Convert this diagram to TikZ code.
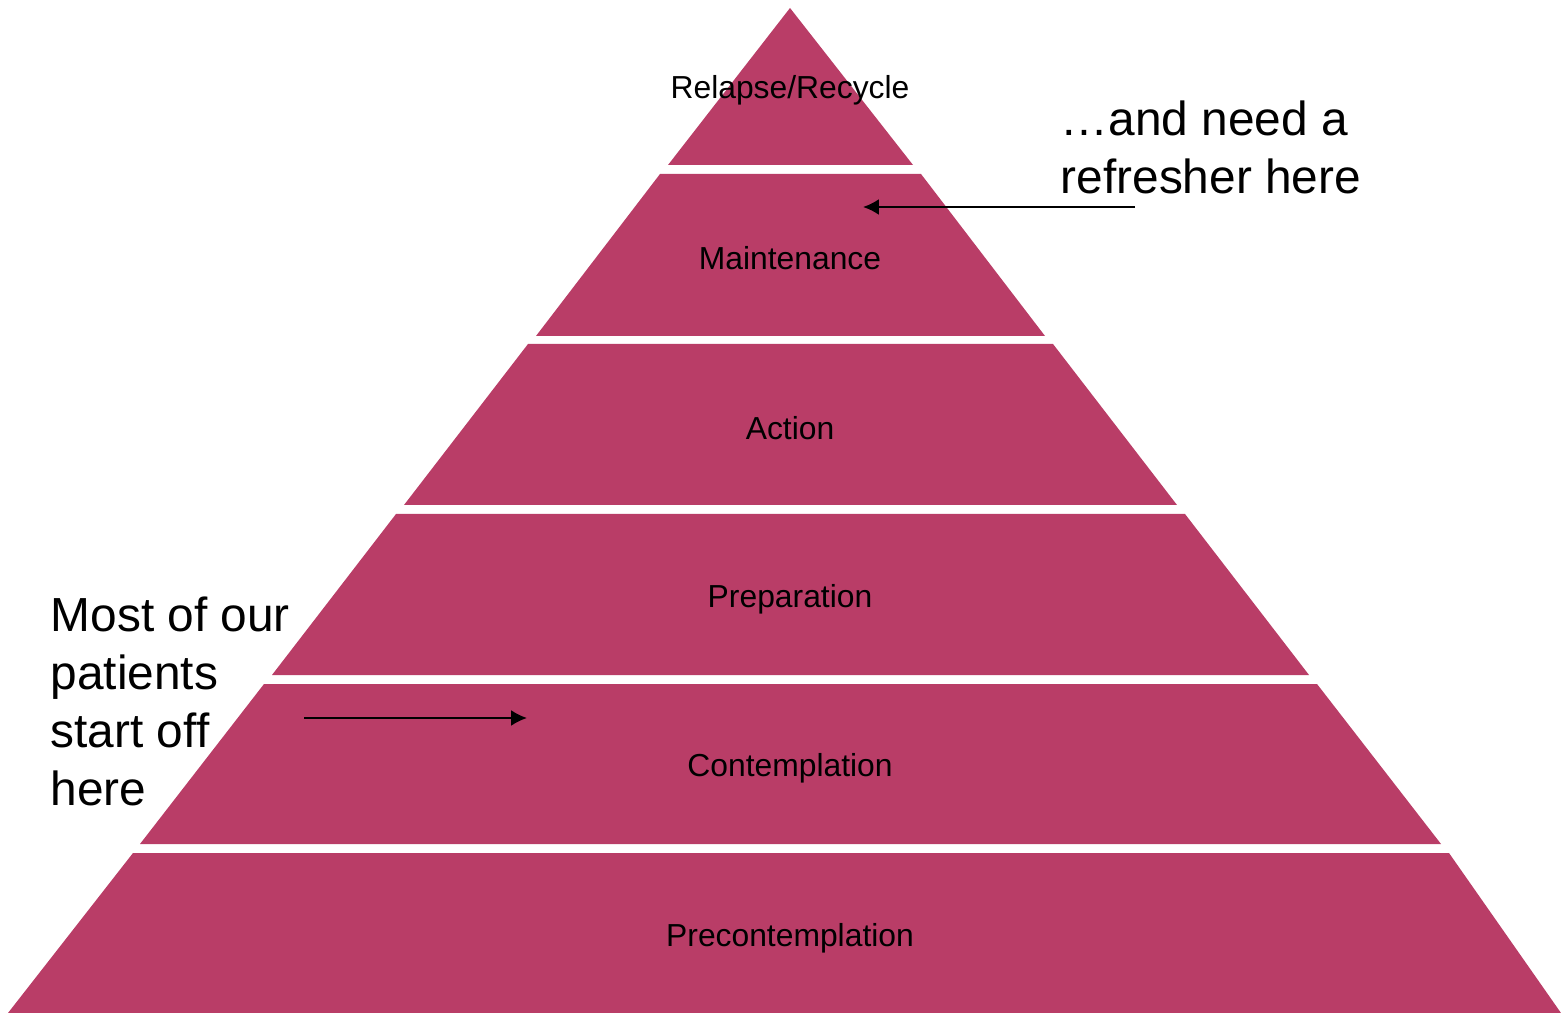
\documentclass[tikz,border=0pt]{standalone}
\usepackage{fontspec}
\setmainfont{Liberation Sans}
\usetikzlibrary{arrows.meta}
\definecolor{berry}{RGB}{185,61,103}

\begin{document}
\begin{tikzpicture}[x=0.01cm, y=-0.01cm,
	lay/.style={fill=berry},
	l/.style={font=\fontsize{9.05}{11}\selectfont, inner sep=0pt},
	big/.style={font=\fontsize{13.6}{16.5}\selectfont, align=left, inner sep=0pt, anchor=north west},
	a/.style={-{Latex[length=4.5pt, width=4.5pt]}, line width=0.6pt}]
	\useasboundingbox (0,0) rectangle (1561,1013);

	\fill [lay] (790,8)   -- (913,165)  -- (668,165)  -- cycle;
	\fill [lay] (660,174) -- (921,174)  -- (1045,336) -- (536,336) -- cycle;
	\fill [lay] (528,344) -- (1053,344) -- (1177,505) -- (404,505) -- cycle;
	\fill [lay] (396,514) -- (1185,514) -- (1309,675) -- (272,675) -- cycle;
	\fill [lay] (264,684) -- (1317,684) -- (1441,844) -- (140,844) -- cycle;
	\fill [lay] (133,853) -- (1449,853) -- (1561,1013) -- (8,1013) -- cycle;

	\node [l] (R) at (790,90)  {Relapse/Recycle};
	\node [l] (M) at (790,258) {Maintenance};
	\node [l] (A) at (790,428) {Action};
	\node [l] (P) at (790,599) {Preparation};
	\node [l] (C) at (790,768) {Contemplation};
	\node [l] (N) at (790,938) {Precontemplation};

	\node [big] (most) at (50,596)   {Most of our\\patients\\start off\\here};
	\node [big] (need) at (1060,100) {…and need a\\refresher here};

	\coordinate (s1) at (304,718);
	\coordinate (e1) at (527,718);
	\coordinate (s2) at (1135,207);
	\coordinate (e2) at (863,207);
	\draw [a] (s1) -- (e1);
	\draw [a] (s2) -- (e2);
\end{tikzpicture}
\end{document}
